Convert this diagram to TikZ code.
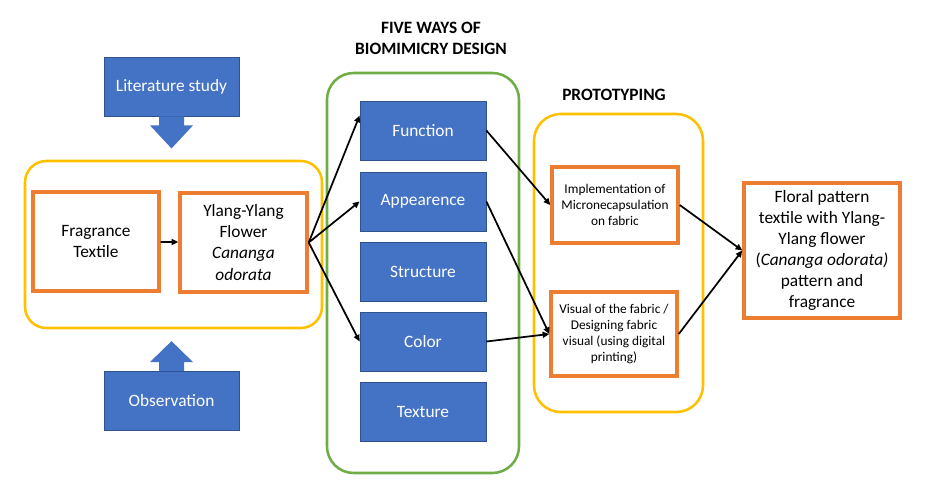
\documentclass[tikz,border=0pt]{standalone}
\usepackage{fontspec}
\setmainfont{Carlito}
\usepackage{tikz}
\usetikzlibrary{positioning,arrows.meta,calc}
\definecolor{officeblue}{RGB}{68,114,196}
\definecolor{blueedge}{RGB}{47,82,143}
\definecolor{officeorange}{RGB}{237,125,49}
\definecolor{officegold}{RGB}{255,192,0}
\definecolor{officegreen}{RGB}{112,173,71}

\begin{document}
\begin{tikzpicture}[x=0.75pt, y=-0.75pt,
  way/.style={rectangle, draw=blueedge, fill=officeblue, line width=0.6pt,
              text=white, font=\fontsize{13}{16}\selectfont,
              minimum width=94.5pt, minimum height=44.25pt, inner sep=0pt},
  src/.style={way, minimum width=101.25pt},
  obox/.style={rectangle, draw=officeorange, line width=2.6pt, fill=white,
               font=\fontsize{13}{15.8}\selectfont, align=center, inner sep=2pt},
  sbox/.style={obox, font=\fontsize{10}{12}\selectfont},
  grp/.style={rectangle, draw=#1, rounded corners=16pt, line width=1.9pt,
              inner sep=0pt},
  ttl/.style={font=\fontsize{13}{16}\selectfont\bfseries, align=center},
  ar/.style={-{Triangle[length=5pt,width=4.5pt]}, line width=1.3pt, black},
]
\useasboundingbox (0,0) rectangle (931,493);

% groups
\node[grp=officegold, minimum width=222.75pt, minimum height=125.25pt] (left) at (173.5,244.5) {};
\node[grp=officegreen, minimum width=144pt, minimum height=300pt, rounded corners=20pt] (five) at (423,273) {};
\node[grp=officegold, minimum width=126.75pt, minimum height=223.5pt, rounded corners=20pt] (proto) at (618.5,263) {};

\node[ttl] (fivettl) at (431,38.5) {FIVE WAYS OF\\BIOMIMICRY DESIGN};
\node[ttl] (protottl) at (614,95) {PROTOTYPING};

% sources
\node[src] (lit) at (171.5,86.5) {Literature study};
\node[src] (obs) at (171.5,401) {Observation};

\fill[officeblue] (lit.south) ++(-12.5,0) -- ++(0,9) -- ++(-9,0) -- ++(21.5,23)
  -- ++(21.5,-23) -- ++(-9,0) -- ++(0,-9) -- cycle;
\fill[officeblue] (obs.north) ++(-12.5,0) -- ++(0,-9) -- ++(-9,0) -- ++(21.5,-21)
  -- ++(21.5,21) -- ++(-9,0) -- ++(0,9) -- cycle;

\node[obox, minimum width=94.5pt, minimum height=74.25pt] (frag) at (96,241.5) {Fragrance\\Textile};
\node[obox, minimum width=95.25pt, minimum height=74.25pt] (ylang) at (243.5,242.5)
  {Ylang-Ylang\\Flower\\\textit{Cananga}\\\textit{odorata}};

% five ways
\node[way] (fn) at (423,130.5) {Function};
\node[way] (ap) at (423,201.5) {Appearence};
\node[way] (st) at (423,271.5) {Structure};
\node[way] (co) at (423,341.5) {Color};
\node[way] (tx) at (423,411.5) {Texture};

% prototyping
\node[sbox, minimum width=94.5pt, minimum height=57pt] (impl) at (615,205)
  {Implementation of\\Micronecapsulation\\on fabric};
\node[sbox, minimum width=94.5pt, minimum height=63pt] (vis) at (614,334)
  {Visual of the fabric /\\Designing fabric\\visual (using digital\\printing)};

\node[obox, minimum width=117pt, minimum height=101.25pt] (final) at (822,250.5)
  {Floral pattern\\textile with Ylang-\\Ylang flower\\(\textit{Cananga odorata)}\\pattern and\\fragrance};

\draw[ar] (frag) -- (ylang);
\draw[ar] (ylang.east) -- ($(fn.north west)!0.25!(fn.south west)$);
\draw[ar] (ylang.east) -- (ap.west);
\draw[ar] (ylang.east) -- (co.west);
\draw[ar] (fn.east) -- (impl.west);
\draw[ar] (ap.east) -- (vis.west);
\draw[ar] (co.east) -- (vis.west);
\draw[ar] (impl.east) -- (final.west);
\draw[ar] (vis.east) -- (final.west);
\end{tikzpicture}
\end{document}
